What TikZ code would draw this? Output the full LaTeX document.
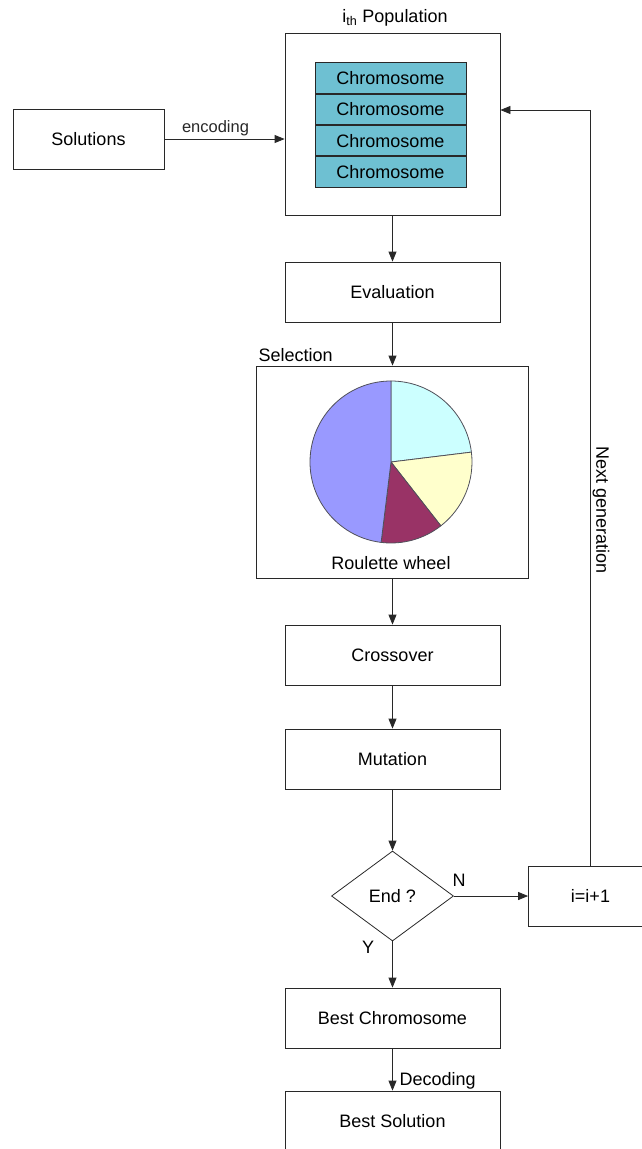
\documentclass[tikz,border=0pt]{standalone}
\usepackage{fontspec}
\setmainfont{Liberation Sans}
\usetikzlibrary{positioning,arrows.meta,calc,shapes.geometric}
\usepackage{xcolor}
\definecolor{chromcol}{RGB}{110,192,210}
\definecolor{linecol}{RGB}{40,40,40}
\definecolor{piecyan}{RGB}{204,255,255}
\definecolor{pieyellow}{RGB}{255,255,204}
\definecolor{piemaroon}{RGB}{153,51,102}
\definecolor{piepurple}{RGB}{153,153,255}
\definecolor{pieedge}{RGB}{80,80,90}

\begin{document}
\begin{tikzpicture}[
    x=1pt, y=1pt,
    font=\fontsize{18}{21}\selectfont,
    box/.style={draw=linecol, line width=0.8pt, minimum width=215pt,
                minimum height=60pt, inner sep=0pt},
    chrom/.style={draw=linecol, fill=chromcol, line width=0.8pt,
                  minimum width=151pt, minimum height=30.5pt, inner sep=0pt},
    flow/.style={-{Triangle[length=10pt,width=8pt]}, line width=0.8pt, color=linecol},
    slice/.style={draw=pieedge, line width=0.8pt, line join=round},
]
\useasboundingbox (0,0) rectangle (641,-1149);

% ---- Population ----
\node[box, minimum height=182pt] (pop) at (392.5,-124) {};
\node (poplab) at (395,-18) {i\textsubscript{th} Population};
\node[chrom] (c1) at (390.5,-78) {Chromosome};
\node[chrom, below=0pt of c1] (c2) {Chromosome};
\node[chrom, below=0pt of c2] (c3) {Chromosome};
\node[chrom, below=0pt of c3] (c4) {Chromosome};

\node[box, minimum width=151pt] (sol) at (88.5,-139) {Solutions};
\draw[flow] (sol.east) -- (sol.east -| pop.west)
  node[midway, above, font=\fontsize{16.5}{19}\selectfont, xshift=-9pt, yshift=-1pt] (enc) {encoding};

% ---- Main flow ----
\node[box] (eval) at (392.5,-292) {Evaluation};
\node[box, minimum width=272pt, minimum height=212pt] (sel) at (392.5,-472) {};
\node[anchor=west] (sellab) at (255,-355) {Selection};

% roulette wheel
\coordinate (pc) at (391,-462);
\filldraw[slice, fill=piecyan] (pc) -- ++(90:81) arc[start angle=90, end angle=7, radius=81] -- cycle;
\filldraw[slice, fill=pieyellow] (pc) -- ++(7:81) arc[start angle=7, end angle=-52, radius=81] -- cycle;
\filldraw[slice, fill=piemaroon] (pc) -- ++(-52:81) arc[start angle=-52, end angle=-97, radius=81] -- cycle;
\filldraw[slice, fill=piepurple] (pc) -- ++(-97:81) arc[start angle=-97, end angle=-270, radius=81] -- cycle;
\node (wheel) at (391,-563) {Roulette wheel};

\node[box] (cross) at (392.5,-655) {Crossover};
\node[box] (mut) at (392.5,-759) {Mutation};
\node[draw=linecol, line width=0.8pt, diamond, aspect=1.36, minimum width=122pt,
      minimum height=90pt, inner sep=0pt] (end) at (392.5,-896) {End ?};
\node[box, minimum width=124pt] (inc) at (590.5,-896) {i=i+1};
\node[box] (bestc) at (392.5,-1018) {Best Chromosome};
\node[box] (bests) at (392.5,-1121) {Best Solution};

\draw[flow] (pop) -- (eval);
\draw[flow] (eval) -- (sel);
\draw[flow] (sel) -- (cross);
\draw[flow] (cross) -- (mut);
\draw[flow] (mut) -- (end);
\draw[flow] (end) -- (inc);
\draw[flow] (end) -- (bestc);
\draw[flow] (bestc) -- (bests);

\node (nlab) at (459,-880) {N};
\node (ylab) at (368,-947) {Y};
\node[anchor=west] (declab) at (396,-1081) {Decoding};

% ---- Loop back ----
\draw[flow] (inc.north) |- ($(pop.east)+(0,14)$);
\node[rotate=-90] (nextlab) at (601,-510) {Next generation};

\end{tikzpicture}
\end{document}
